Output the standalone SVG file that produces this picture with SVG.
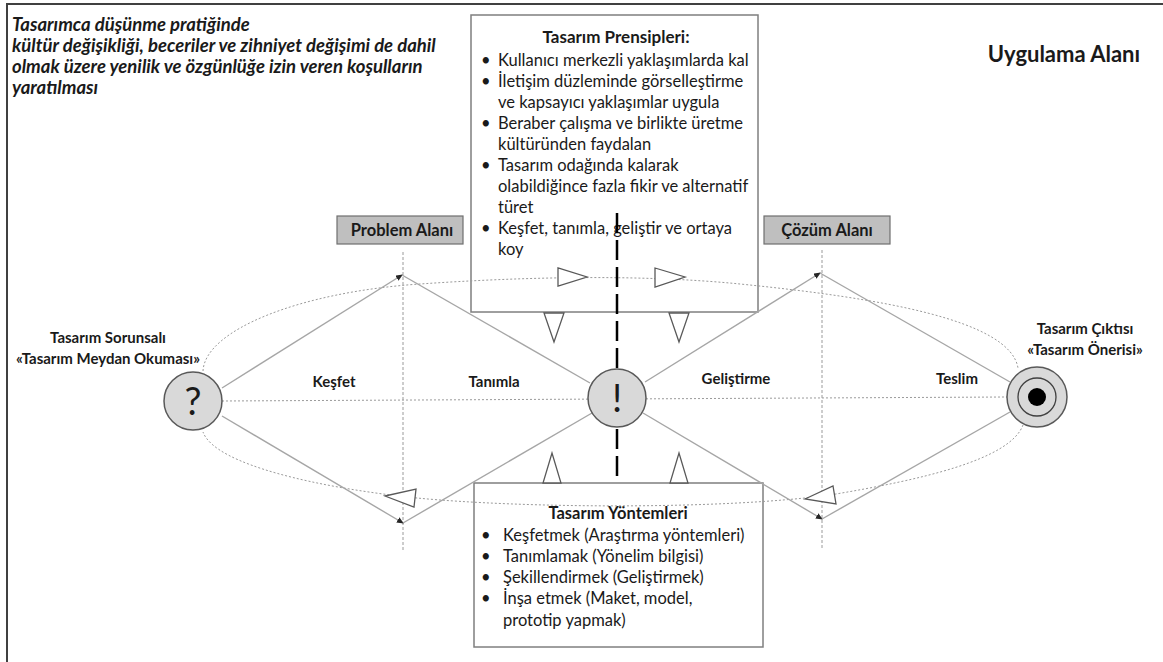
<svg xmlns="http://www.w3.org/2000/svg" width="1163" height="662" viewBox="0 0 1163 662">
<style>
.t{font-family:Lato,"Open Sans","Liberation Sans",sans-serif;fill:#1a1a1a}
.b{font-weight:bold}
.body{font-size:16.5px}
.lbl{font-size:15px;font-weight:bold}
.tagt{font-size:16.5px;font-weight:bold}
.box{fill:#ffffff;stroke:#7f7f7f;stroke-width:1.5}
.tag{fill:#bfbfbf;stroke:#6f6f6f;stroke-width:1.2}
.solid{stroke:#a6a6a6;stroke-width:1.4;fill:none}
.dot{stroke:#9a9a9a;stroke-width:1;stroke-dasharray:2 2;fill:none}
.vdot{stroke:#9a9a9a;stroke-width:1;stroke-dasharray:3 2;fill:none}
.tri{fill:#ffffff;stroke:#595959;stroke-width:1.3}
.node{fill:#d9d9d9;stroke:#595959;stroke-width:1.5}
</style>
<defs>
<marker id="ah" markerWidth="7" markerHeight="6" refX="6" refY="3" orient="auto" markerUnits="userSpaceOnUse">
<path d="M0,0 L7,3 L0,6 z" fill="#262626"/>
</marker>
</defs>
<rect width="1163" height="662" fill="#ffffff"/>
<g id="frame">
<path d="M7,662 L7,4 L1163,4" fill="none" stroke="#404040" stroke-width="2"/>
</g>
<g id="intro">
<text class="t b" font-size="18.5" font-style="italic" x="12"><tspan x="12" y="31">Tasarımca düşünme pratiğinde</tspan><tspan x="12" y="52">kültür değişikliği, beceriler ve zihniyet değişimi de dahil</tspan><tspan x="12" y="73">olmak üzere yenilik ve özgünlüğe izin veren koşulların</tspan><tspan x="12" y="94">yaratılması</tspan></text>
</g>
<g id="uygulama">
<text class="t b" font-size="22" x="1064" y="62" text-anchor="middle">Uygulama Alanı</text>
</g>
<g id="prensipler">
<rect class="box" x="471" y="15" width="287" height="297"/>
<text class="t b" font-size="17" x="616" y="43" text-anchor="middle">Tasarım Prensipleri:</text>
<g class="t body">
<text x="481" y="66">•</text><text x="498" y="66">Kullanıcı merkezli yaklaşımlarda kal</text>
<text x="481" y="87">•</text><text x="498" y="87">İletişim düzleminde görselleştirme</text>
<text x="498" y="108">ve kapsayıcı yaklaşımlar uygula</text>
<text x="481" y="129">•</text><text x="498" y="129">Beraber çalışma ve birlikte üretme</text>
<text x="498" y="150">kültüründen faydalan</text>
<text x="481" y="171">•</text><text x="498" y="171">Tasarım odağında kalarak</text>
<text x="498" y="192">olabildiğince fazla fikir ve alternatif</text>
<text x="498" y="213">türet</text>
<text x="481" y="234">•</text><text x="498" y="234">Keşfet, tanımla, geliştir ve ortaya</text>
<text x="498" y="255">koy</text>
</g>
</g>
<g id="yontemler">
<rect class="box" x="474" y="483" width="289" height="164"/>
<text class="t b" font-size="16.5" x="618" y="519" text-anchor="middle">Tasarım Yöntemleri</text>
<g class="t body">
<text x="481" y="541">•</text><text x="503" y="541">Keşfetmek (Araştırma yöntemleri)</text>
<text x="481" y="562">•</text><text x="503" y="562">Tanımlamak (Yönelim bilgisi)</text>
<text x="481" y="583">•</text><text x="503" y="583">Şekillendirmek (Geliştirmek)</text>
<text x="481" y="604">•</text><text x="503" y="604">İnşa etmek (Maket, model,</text>
<text x="503" y="626">prototip yapmak)</text>
</g>
</g>
<g id="connectors">
<path class="vdot" d="M403,252 L403,552"/>
<path class="vdot" d="M822,250 L822,550"/>
<path class="dot" d="M222,401 L1007,397"/>
<path class="dot" d="M203,371 C205,330 300,292 420,284 C520,277 640,274 740,284 C880,298 1010,320 1018,368"/>
<path class="dot" d="M1023,425 C1010,460 920,480 830,495 C720,510 520,508 417,498 C320,488 215,465 203,432"/>
<path d="M617,213 L617,483" stroke="#000000" stroke-width="2.5" stroke-dasharray="20 7" fill="none"/>
<path class="solid" d="M222,388 L402,275" marker-end="url(#ah)"/>
<path class="solid" d="M402,275 L590,383"/>
<path class="solid" d="M222,416 L403,523" marker-end="url(#ah)"/>
<path class="solid" d="M403,523 L592,413"/>
<path class="solid" d="M645,382 L820,273" marker-end="url(#ah)"/>
<path class="solid" d="M820,273 L1010,382"/>
<path class="solid" d="M643,413 L822,519" marker-end="url(#ah)"/>
<path class="solid" d="M822,519 L1010,412"/>
<polygon class="tri" points="558,268 558,286 587,277"/>
<polygon class="tri" points="655,268 655,287 685,277"/>
<polygon class="tri" points="544,313 564,313 554,342"/>
<polygon class="tri" points="669,313 689,313 679,342"/>
<polygon class="tri" points="543,483 561,483 552,453"/>
<polygon class="tri" points="670,483 688,483 679,453"/>
<polygon class="tri" points="385,496 416,489 414,507"/>
<polygon class="tri" points="805,499 833,486 836,504"/>
</g>
<g id="problem-alani">
<rect class="tag" x="337" y="216" width="126" height="28"/>
<text class="t tagt" x="402" y="236" text-anchor="middle">Problem Alanı</text>
</g>
<g id="cozum-alani">
<rect class="tag" x="764" y="216" width="126" height="28"/>
<text class="t tagt" x="827" y="236" text-anchor="middle">Çözüm Alanı</text>
</g>
<g id="sorunsal">
<circle class="node" cx="193" cy="401" r="29"/>
<text class="t" font-size="38" x="193" y="415" text-anchor="middle" fill="#262626">?</text>
<text class="t lbl" x="108" y="343" text-anchor="middle">Tasarım Sorunsalı</text>
<text class="t lbl" x="108" y="364" text-anchor="middle">«Tasarım Meydan Okuması»</text>
</g>
<g id="unlem">
<circle class="node" cx="617" cy="398" r="29"/>
<text class="t" font-size="38" x="617" y="412" text-anchor="middle" fill="#262626">!</text>
</g>
<g id="cikti">
<circle class="node" cx="1037" cy="397" r="30"/>
<circle cx="1037" cy="397" r="19" fill="none" stroke="#404040" stroke-width="1.3"/>
<circle cx="1037" cy="397" r="9" fill="#000000"/>
<text class="t lbl" x="1085" y="334" text-anchor="middle">Tasarım Çıktısı</text>
<text class="t lbl" x="1085" y="355" text-anchor="middle">«Tasarım Önerisi»</text>
</g>
<g id="phase-labels" class="t lbl">
<text x="334" y="387" text-anchor="middle">Keşfet</text>
<text x="494" y="387" text-anchor="middle">Tanımla</text>
<text x="736" y="384" text-anchor="middle">Geliştirme</text>
<text x="957" y="384" text-anchor="middle">Teslim</text>
</g>
</svg>
